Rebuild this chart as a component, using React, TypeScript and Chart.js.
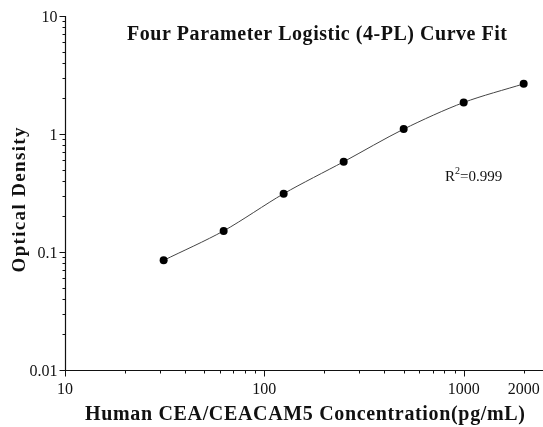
import React, { useEffect, useRef } from "react";
import { Chart, registerables } from "chart.js";

Chart.register(...registerables);

// ---- data ----
const concentrations = [31.25, 62.5, 125, 250, 500, 1000, 2000];
const opticalDensity = [0.085, 0.151, 0.312, 0.582, 1.1, 1.85, 2.66];

const xMajorTicks = [10, 100, 1000];
const xMinorTicks = [20, 30, 40, 50, 60, 70, 80, 90, 200, 300, 400, 500, 600, 700, 800, 900, 2000];
const xLabelValues = [10, 100, 1000, 2000];
const xTickLabels = ["10", "100", "1000", "2000"];

const yMajorTicks = [0.01, 0.1, 1, 10];
const yMinorTicks = [
  0.02, 0.03, 0.04, 0.05, 0.06, 0.07, 0.08, 0.09,
  0.2, 0.3, 0.4, 0.5, 0.6, 0.7, 0.8, 0.9,
  2, 3, 4, 5, 6, 7, 8, 9,
];
const yTickLabels = ["0.01", "0.1", "1", "10"];

const chartTitle = "Four Parameter Logistic (4-PL) Curve Fit";
const xAxisTitle = "Human CEA/CEACAM5 Concentration(pg/mL)";
const yAxisTitle = "Optical Density";
const r2Label = "0.999";

const SERIF = "'Liberation Serif', 'Times New Roman', serif";

function drawFitted(ctx: CanvasRenderingContext2D, text: string, cx: number, baseline: number, target: number) {
  (ctx as any).letterSpacing = "0px";
  const w = ctx.measureText(text).width;
  let sp = (target - w) / Math.max(1, text.length - 1);
  if (sp < -1) sp = -1;
  (ctx as any).letterSpacing = sp + "px";
  ctx.textAlign = "left";
  ctx.fillText(text, cx - target / 2, baseline);
  (ctx as any).letterSpacing = "0px";
}

const axesPlugin = {
  id: "axesPlugin",
  afterDraw(chart: any) {
    const { ctx, chartArea, scales } = chart;
    const xs = scales.x;
    const ys = scales.y;
    ctx.save();
    ctx.strokeStyle = "#111";
    ctx.fillStyle = "#111";
    ctx.lineWidth = 1.2;
    const ax = Math.round(chartArea.left) + 0.5;
    const ay = Math.round(chartArea.bottom) + 0.5;
    ctx.beginPath();
    ctx.moveTo(ax, chartArea.top);
    ctx.lineTo(ax, ay);
    ctx.lineTo(chartArea.right, ay);
    ctx.stroke();

    ctx.lineWidth = 1;
    ctx.beginPath();
    xMajorTicks.forEach((v) => {
      const px = Math.round(xs.getPixelForValue(v)) + 0.5;
      ctx.moveTo(px, ay);
      ctx.lineTo(px, ay + 6);
    });
    xMinorTicks.forEach((v) => {
      const px = Math.round(xs.getPixelForValue(v)) + 0.5;
      ctx.moveTo(px, ay);
      ctx.lineTo(px, ay + 3);
    });
    yMajorTicks.forEach((v) => {
      const py = Math.round(ys.getPixelForValue(v)) + 0.5;
      ctx.moveTo(ax, py);
      ctx.lineTo(ax - 6, py);
    });
    yMinorTicks.forEach((v) => {
      const py = Math.round(ys.getPixelForValue(v)) + 0.5;
      ctx.moveTo(ax, py);
      ctx.lineTo(ax - 3, py);
    });
    ctx.stroke();

    // tick labels
    ctx.font = `16px ${SERIF}`;
    ctx.textBaseline = "alphabetic";
    ctx.textAlign = "center";
    xLabelValues.forEach((v, i) => {
      ctx.fillText(xTickLabels[i], xs.getPixelForValue(v), ay + 23);
    });
    ctx.textAlign = "right";
    yMajorTicks.forEach((v, i) => {
      ctx.fillText(yTickLabels[i], ax - 8, ys.getPixelForValue(v) + 5.5);
    });

    // chart title
    ctx.font = `bold 20px ${SERIF}`;
    drawFitted(ctx, chartTitle, 317, 40, 380);

    // x axis title
    ctx.font = `bold 20px ${SERIF}`;
    drawFitted(ctx, xAxisTitle, 305, 420, 440);

    // y axis title
    ctx.save();
    ctx.translate(25, 200);
    ctx.rotate(-Math.PI / 2);
    ctx.font = `bold 19px ${SERIF}`;
    drawFitted(ctx, yAxisTitle, 0, 0, 145);
    ctx.restore();

    // R^2 annotation
    ctx.font = `15px ${SERIF}`;
    ctx.textAlign = "left";
    ctx.fillText("R", 445, 181);
    const rw = ctx.measureText("R").width;
    ctx.font = `10px ${SERIF}`;
    ctx.fillText("2", 445 + rw, 174);
    const sw = ctx.measureText("2").width;
    ctx.font = `15px ${SERIF}`;
    ctx.fillText("=" + r2Label, 445 + rw + sw, 181);

    ctx.restore();
  },
};

export default function App() {
  const ref = useRef<HTMLCanvasElement | null>(null);
  useEffect(() => {
    if (!ref.current) return;
    const chart = new Chart(ref.current, {
      type: "scatter",
      data: {
        datasets: [
          {
            data: concentrations.map((x, i) => ({ x, y: opticalDensity[i] })),
            showLine: true,
            borderColor: "#444",
            borderWidth: 1,
            pointRadius: 4,
            pointBackgroundColor: "#000",
            pointBorderColor: "#000",
            pointBorderWidth: 0,
            tension: 0.3,
            clip: false,
          } as any,
        ],
      },
      options: {
        responsive: false,
        animation: false,
        layout: { autoPadding: false, padding: { left: 65, right: 0, top: 16, bottom: 57 } },
        scales: {
          x: { type: "logarithmic", min: 10, max: 2500, display: false },
          y: { type: "logarithmic", min: 0.01, max: 10, display: false },
        },
        plugins: {
          legend: { display: false },
          tooltip: { enabled: false },
          title: { display: false },
        },
      },
      plugins: [axesPlugin],
    });
    return () => chart.destroy();
  }, []);
  return (
    <div style={{ position: "fixed", left: 0, top: 0, width: 543, height: 427, background: "#fff" }}>
      <canvas ref={ref} width={543} height={427} />
    </div>
  );
}
